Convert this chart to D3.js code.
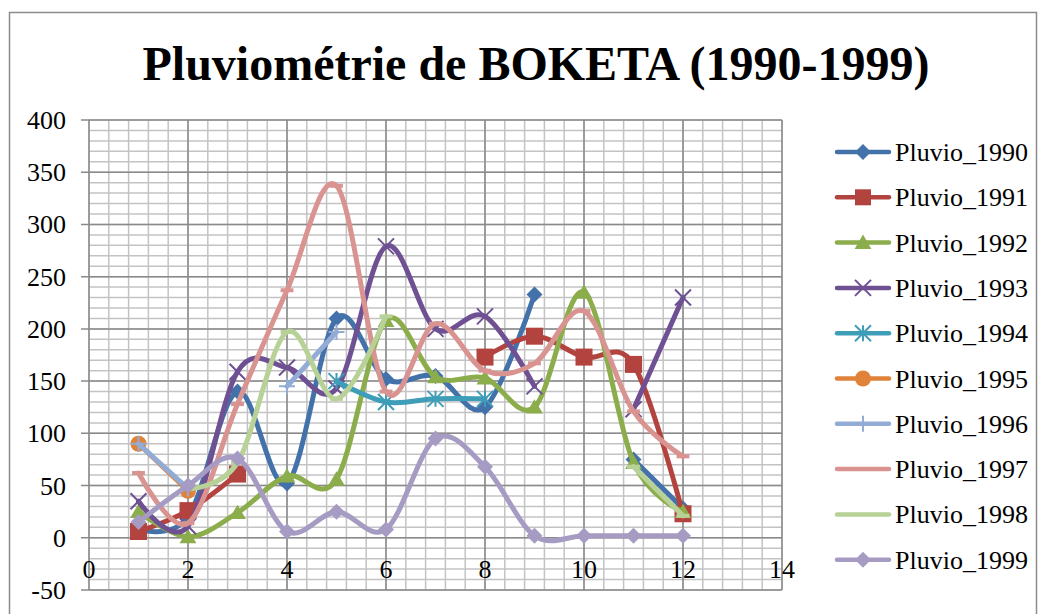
<!doctype html>
<html lang=fr>

<head>
  <meta charset=utf-8>
  <title>Pluviométrie de BOKETA</title>
  <style>
    body { margin: 0; background: #fff; }
    text { font-family: "Liberation Serif", "Times New Roman", serif; fill: #000; }
  </style>
</head>

<body>
  <svg></svg>
  <script src="https://d3js.org/d3.v7.min.js"></script>
  <script>
    var width = 1043;
    var height = 614;

    // data (month 1..12, null = no value)
    var months = [1, 2, 3, 4, 5, 6, 7, 8, 9, 10, 11, 12];
    var xTicks = [0, 2, 4, 6, 8, 10, 12, 14];
    var yTicks = [-50, 0, 50, 100, 150, 200, 250, 300, 350, 400];
    var seriesNames = ["Pluvio_1990", "Pluvio_1991", "Pluvio_1992", "Pluvio_1993", "Pluvio_1994",
      "Pluvio_1995", "Pluvio_1996", "Pluvio_1997", "Pluvio_1998", "Pluvio_1999"];

    var pluvio1990 = [8, 20, 140, 52, 210, 152, 155, 125, 233, null, 75, 28];
    var pluvio1991 = [6, 26, 61, null, null, null, null, 173, 193, 173, 166, 23];
    var pluvio1992 = [25, 1, 24, 59, 56, 208, 154, 153, 125, 235, 72, 25];
    var pluvio1993 = [35, 11, 159, 163, 143, 279, 200, 212, 145, null, 123, 230];
    var pluvio1994 = [null, null, null, null, 150, 130, 133, 133, null, null, null, null];
    var pluvio1995 = [90, 45, null, null, null, null, null, null, null, null, null, null];
    var pluvio1996 = [90, 47, null, 145, 197, null, null, null, null, null, null, null];
    var pluvio1997 = [62, 14, 128, 237, 337, 140, 205, 160, 167, 217, 121, 78];
    var pluvio1998 = [null, 47, 72, 197, 133, 212, null, null, null, null, 68, 21];
    var pluvio1999 = [15, 50, 76, 6, 25, 8, 95, 68, 2, 2, 2, 2];

    var allValues = [pluvio1990, pluvio1991, pluvio1992, pluvio1993, pluvio1994,
      pluvio1995, pluvio1996, pluvio1997, pluvio1998, pluvio1999];

    var colors = ["#4372aa", "#b3433f", "#8cad4b", "#6e5093", "#3e9db7",
      "#e0823a", "#93acd6", "#d99390", "#b7d197", "#a69bc3"];
    var markers = ["diamond", "square", "triangle", "x", "star", "circle", "plus", "dash", "dash", "diamond"];

    var svg = d3.select("svg")
      .attr("width", width)
      .attr("height", height);

    // chart border
    svg.append("rect")
      .attr("x", 9.5).attr("y", 12.5)
      .attr("width", 1027).attr("height", 620)
      .attr("fill", "#fff")
      .attr("stroke", "#8c8c8c")
      .attr("stroke-width", 1.5);

    svg.append("text")
      .attr("x", 536)
      .attr("y", 80)
      .attr("text-anchor", "middle")
      .style("font-size", "48px")
      .style("font-weight", "bold")
      .text("Pluviométrie de BOKETA (1990-1999)");

    var xScale = d3.scaleLinear().domain([0, 14]).range([89, 782]);
    var yScale = d3.scaleLinear().domain([-50, 400]).range([590, 120]);

    // grid: minor lines first, then major
    var grid = svg.append("g");
    grid.selectAll(".vminor")
      .data(d3.range(0, 14.01, 0.4))
      .enter().append("line")
      .attr("x1", function (d) { return xScale(d); })
      .attr("x2", function (d) { return xScale(d); })
      .attr("y1", yScale(-50)).attr("y2", yScale(400))
      .attr("stroke", "#c3c3c3").attr("stroke-width", 1.5);
    grid.selectAll(".hminor")
      .data(d3.range(-50, 400.1, 10))
      .enter().append("line")
      .attr("y1", function (d) { return yScale(d); })
      .attr("y2", function (d) { return yScale(d); })
      .attr("x1", xScale(0)).attr("x2", xScale(14))
      .attr("stroke", "#c3c3c3").attr("stroke-width", 1.5);
    grid.selectAll(".vmajor")
      .data(xTicks)
      .enter().append("line")
      .attr("x1", function (d) { return xScale(d); })
      .attr("x2", function (d) { return xScale(d); })
      .attr("y1", yScale(-50)).attr("y2", yScale(400))
      .attr("stroke", "#8a8a8a").attr("stroke-width", 1.5);
    grid.selectAll(".hmajor")
      .data(yTicks)
      .enter().append("line")
      .attr("y1", function (d) { return yScale(d); })
      .attr("y2", function (d) { return yScale(d); })
      .attr("x1", xScale(0) - 8).attr("x2", xScale(14))
      .attr("stroke", "#8a8a8a").attr("stroke-width", 1.5);

    // tick labels
    svg.selectAll(".ylab")
      .data(yTicks)
      .enter().append("text")
      .attr("x", 66)
      .attr("y", function (d) { return yScale(d) + 9; })
      .attr("text-anchor", "end")
      .style("font-size", "26px")
      .text(function (d) { return d; });
    svg.selectAll(".xlab")
      .data(xTicks)
      .enter().append("text")
      .attr("x", function (d) { return xScale(d); })
      .attr("y", 578)
      .attr("text-anchor", "middle")
      .style("font-size", "26px")
      .text(function (d) { return d; });

    function drawMarker(g, type, color, s) {
      var h = s / 2;
      if (type === "diamond") {
        g.append("path").attr("d", "M0," + (-h) + "L" + h + ",0L0," + h + "L" + (-h) + ",0Z").attr("fill", color);
      } else if (type === "square") {
        g.append("rect").attr("x", -h).attr("y", -h).attr("width", s).attr("height", s).attr("fill", color);
      } else if (type === "triangle") {
        g.append("path").attr("d", "M0," + (-h) + "L" + (h * 1.05) + "," + (h * 0.8) + "L" + (-h * 1.05) + "," + (h * 0.8) + "Z").attr("fill", color);
      } else if (type === "circle") {
        g.append("circle").attr("r", h).attr("fill", color);
      } else if (type === "x") {
        g.append("path").attr("d", "M" + (-h) + "," + (-h) + "L" + h + "," + h + "M" + h + "," + (-h) + "L" + (-h) + "," + h)
          .attr("stroke", color).attr("stroke-width", 2);
      } else if (type === "star") {
        g.append("path").attr("d", "M" + (-h) + "," + (-h) + "L" + h + "," + h + "M" + h + "," + (-h) + "L" + (-h) + "," + h + "M0," + (-h) + "L0," + h)
          .attr("stroke", color).attr("stroke-width", 2);
      } else if (type === "plus") {
        g.append("path").attr("d", "M" + (-h) + ",0L" + h + ",0M0," + (-h) + "L0," + h)
          .attr("stroke", color).attr("stroke-width", 2);
      } else if (type === "dash") {
        g.append("rect").attr("x", -h * 0.8).attr("y", -2).attr("width", s * 0.8).attr("height", 4).attr("fill", color);
      }
    }

    var valueline = d3.line()
      .defined(function (d) { return d.v != null; })
      .x(function (d) { return xScale(d.m); })
      .y(function (d) { return yScale(d.v); })
      .curve(d3.curveCardinal.tension(0));

    var plot = svg.append("g");
    allValues.forEach(function (vals, i) {
      var pts = months.map(function (m, j) { return { m: m, v: vals[j] }; });
      var g = plot.append("g");
      g.append("path")
        .datum(pts)
        .attr("d", valueline)
        .attr("fill", "none")
        .attr("stroke", colors[i])
        .attr("stroke-width", 5)
        .attr("stroke-linejoin", "round")
        .attr("stroke-linecap", "round");
      pts.filter(function (d) { return d.v != null; }).forEach(function (d) {
        var mg = g.append("g").attr("transform", "translate(" + xScale(d.m) + "," + yScale(d.v) + ")");
        drawMarker(mg, markers[i], colors[i], markers[i] === "square" ? 17 : 16);
      });
    });

    // legend
    var legend = svg.append("g");
    seriesNames.forEach(function (name, i) {
      var y = 152 + i * 45.3;
      legend.append("line")
        .attr("x1", 837).attr("x2", 889)
        .attr("y1", y).attr("y2", y)
        .attr("stroke", colors[i])
        .attr("stroke-width", 4.5)
        .attr("stroke-linecap", "round");
      var mg = legend.append("g").attr("transform", "translate(863," + y + ")");
      if (markers[i] !== "dash") drawMarker(mg, markers[i], colors[i], 16);
      legend.append("text")
        .attr("x", 895)
        .attr("y", y + 9)
        .style("font-size", "26px")
        .text(name);
    });
  </script>
</body>

</html>
